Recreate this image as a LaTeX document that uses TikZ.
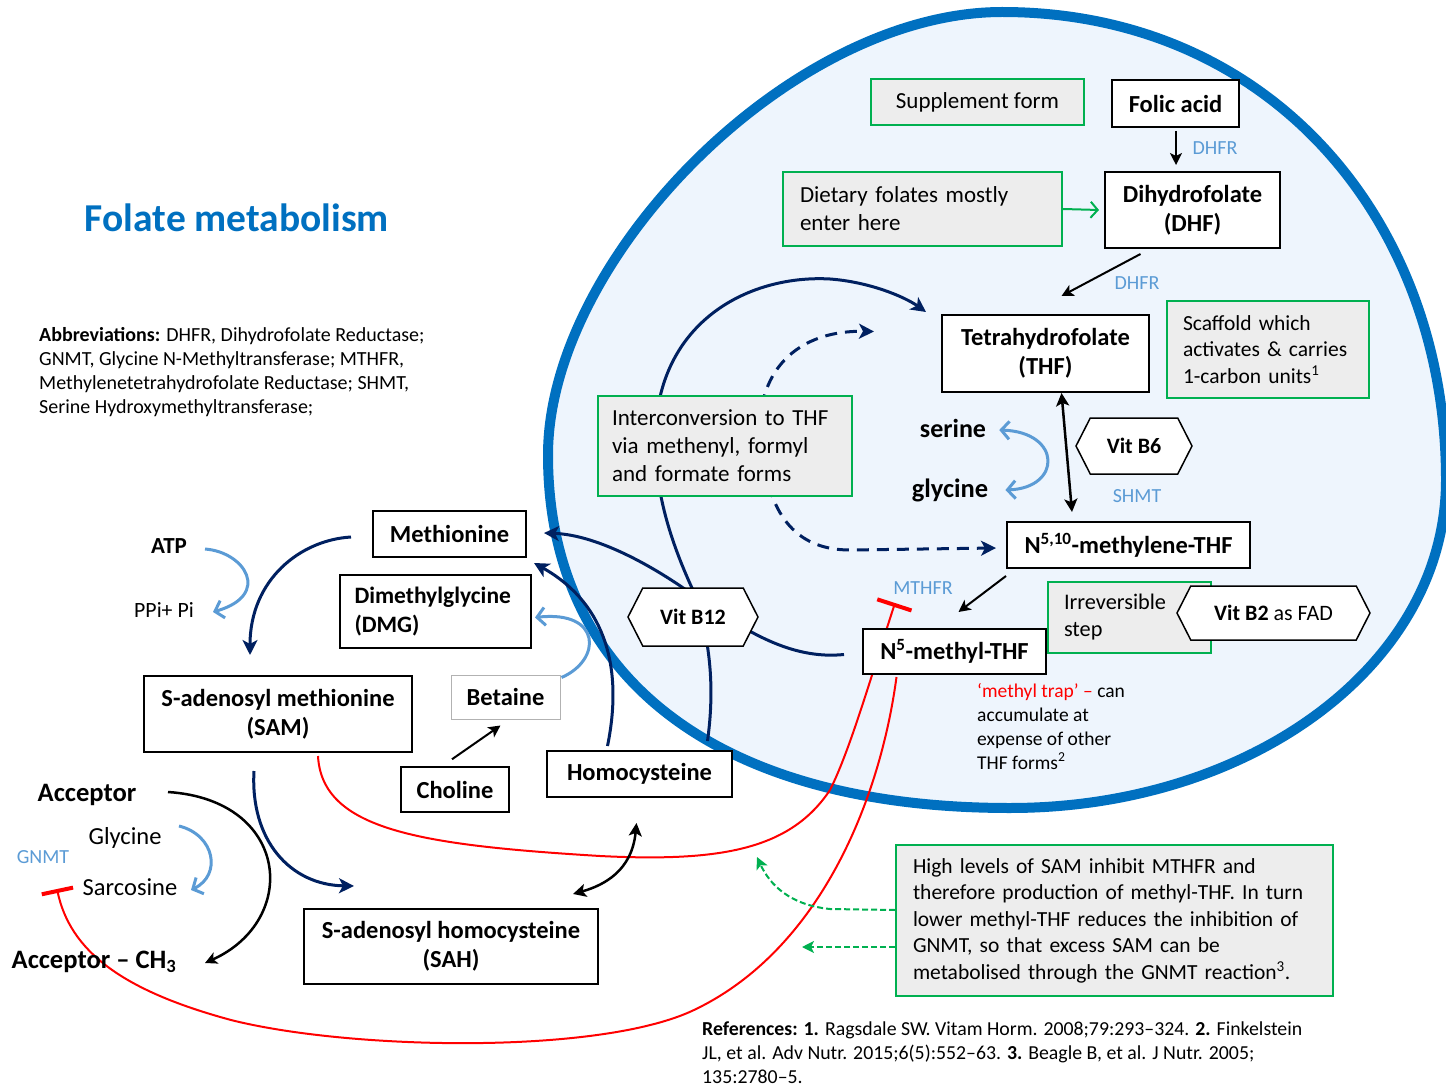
\documentclass[tikz,border=0pt]{standalone}
\usepackage{fontspec}
\setmainfont{Carlito}
\usetikzlibrary{arrows.meta,shapes.symbols,calc}
\pgfdeclarelayer{back}
\pgfdeclarelayer{bg}
\pgfsetlayers{back,bg,main}
\definecolor{lblue}{HTML}{5B9BD5}
\definecolor{tblue}{HTML}{0070C0}
\definecolor{navy}{HTML}{002060}
\definecolor{gbord}{HTML}{00B050}
\definecolor{gfill}{HTML}{EDEDED}
\definecolor{efill}{HTML}{EEF5FD}
\definecolor{rred}{HTML}{FF0000}
\newcommand{\fsz}[2]{\fontsize{#1}{#2}\selectfont}
\begin{document}
\begin{tikzpicture}[x=1pt,y=-1pt,
  box/.style={draw=black, line width=2pt, fill=white, inner sep=0pt, align=center, font=\bfseries\fsz{24.5}{29}},
  gbox/.style={draw=gbord, line width=2pt, fill=gfill, inner ysep=0pt, inner xsep=16pt, align=left, font=\fsz{23}{28}},
  hexa/.style={shape=signal, signal to=east and west, signal pointer angle=126, draw=black, line width=1.5pt, fill=white, inner sep=0pt, font=\bfseries\fsz{22}{26}},
  lbl/.style={text=lblue, font=\fsz{20}{22}, inner sep=0pt},
  txt/.style={inner sep=0pt},
  navyarr/.style={draw=navy, line width=3pt, -{Stealth[length=15pt,width=15pt,inset=4pt]}},
  navydash/.style={draw=navy, line width=3pt, dash pattern=on 12pt off 8pt, -{Stealth[length=15pt,width=15pt,inset=4pt]}},
  blkarr/.style={draw=black, line width=2pt, -{Stealth[length=12pt,width=12pt,inset=3pt]}},
  blkdbl/.style={draw=black, line width=2.5pt, {Stealth[length=13pt,width=13pt,inset=3pt]}-{Stealth[length=13pt,width=13pt,inset=3pt]}},
  lbarr/.style={draw=lblue, line width=3pt, -{Straight Barb[length=8pt,width=18pt]}},
  lbdbl/.style={draw=lblue, line width=3pt, {Straight Barb[length=8pt,width=18pt]}-{Straight Barb[length=8pt,width=18pt]}},
  grarr/.style={draw=gbord, line width=2pt, -{Straight Barb[length=7pt,width=16pt]}},
  grdash/.style={draw=gbord, line width=2pt, dash pattern=on 6pt off 3pt, -{Stealth[length=12pt,width=12pt,inset=3pt]}},
  redinh/.style={draw=rred, line width=2pt, -{Bar[width=36pt,line width=4pt]}}
]
\useasboundingbox (0,0) rectangle (1446,1086);

% ---- big ellipse (cell) ----
\begin{pgfonlayer}{back}
\path[fill=efill, draw=tblue, line width=10pt]
  (1002,12) .. controls (1270,12) and (1446,220) .. (1446,480)
  .. controls (1446,665) and (1250,808) .. (1010,808)
  .. controls (720,808) and (548,680) .. (548,455)
  .. controls (548,260) and (790,12) .. cycle;
\end{pgfonlayer}

% ---- nodes ----
\node[gbox, inner xsep=0pt, align=center, minimum width=213pt, minimum height=46pt] (supp) at (977.5,102) {Supplement form};
\node[box, minimum width=127pt, minimum height=47pt] (folic) at (1175.5,103.5) {Folic acid};
\node[gbox, text width=245pt, inner xsep=17pt, minimum height=74pt] (diet) at (922.5,209) {Dietary folates mostly\\enter here};
\node[box, minimum width=175pt, minimum height=76pt] (dhf) at (1192.5,210) {Dihydrofolate\\(DHF)};
\node[box, minimum width=207pt, minimum height=77pt] (thf) at (1045.5,353.5) {Tetrahydrofolate\\(THF)};
\node[gbox, text width=170pt, inner xsep=16pt, minimum height=97pt, font=\fsz{21.5}{26.5}] (scaf) at (1268,349.5) {Scaffold which\\activates \& carries\\1-carbon units\textsuperscript{1}};
\node[gbox, text width=226pt, inner xsep=14pt, minimum height=100pt] (inter) at (725,446) {Interconversion to THF\\via methenyl, formyl\\and formate forms};
\node[box, minimum width=243pt, minimum height=46pt] (mthf) at (1128.5,545) {N\textsuperscript{5,10}-methylene-THF};
\node[box, minimum width=183pt, minimum height=45pt] (n5) at (954.5,651.5) {N\textsuperscript{5}-methyl-THF};
\node[gbox, text width=131pt, minimum height=71pt, font=\fsz{22.3}{27}] (irrev) at (1129.5,617.5) {Irreversible\\step};
\node[hexa, minimum width=193pt, minimum height=54pt, font=\fsz{22}{26}] (b2) at (1273.5,613) {\textbf{Vit B2} as FAD};
\node[hexa, minimum width=116pt, minimum height=56pt] (b6) at (1134,446) {Vit B6};
\node[hexa, minimum width=130pt, minimum height=58pt] (b12) at (693,617) {Vit B12};

\node[box, minimum width=153pt, minimum height=46pt] (met) at (449.5,534) {Methionine};
\node[box, align=left, text width=162pt, inner xsep=14.5pt, minimum height=73pt, font=\bfseries\fsz{23.5}{29}] (dmg) at (435.5,611.5) {Dimethylglycine\\(DMG)};
\node[box, draw=gray!60, line width=1pt, minimum width=109pt, minimum height=44pt] (bet) at (505.5,697) {Betaine};
\node[box, line width=1.5pt, minimum width=108pt, minimum height=45pt] (chol) at (455,789.5) {Choline};
\node[box, minimum width=268pt, minimum height=76pt] (sam) at (278,714) {S-adenosyl methionine\\(SAM)};
\node[box, minimum width=185pt, minimum height=46pt] (hcy) at (639.5,774) {Homocysteine};
\node[box, minimum width=294pt, minimum height=75pt] (sah) at (451,946.5) {S-adenosyl homocysteine\\(SAH)};
\node[gbox, text width=403pt, inner xsep=17pt, minimum height=151pt, font=\fsz{21.5}{26.5}] (note) at (1114.5,920.5) {High levels of SAM inhibit MTHFR and\\therefore production of methyl-THF. In turn\\lower methyl-THF reduces the inhibition of\\GNMT, so that excess SAM can be\\metabolised through the GNMT reaction\textsuperscript{3}.};

% ---- free texts ----
\node[txt, text=tblue, font=\bfseries\fsz{39.5}{46}] (title) at (237,218) {Folate metabolism};
\node[txt, anchor=west, align=left, font=\fsz{20}{24}] (abbr) at (39,372) {\textbf{Abbreviations:} DHFR, Dihydrofolate Reductase;\\GNMT, Glycine N-Methyltransferase; MTHFR,\\Methylenetetrahydrofolate Reductase; SHMT,\\Serine Hydroxymethyltransferase;};
\node[txt, font=\bfseries\fsz{23}{26}] (atp) at (169,546) {ATP};
\node[txt, font=\fsz{21.8}{26}] (ppi) at (164,610) {PPi+ Pi};
\node[txt, font=\bfseries\fsz{26}{30}] (ser) at (953,428) {serine};
\node[txt, font=\bfseries\fsz{26.5}{30}] (gly) at (950,490) {glycine};
\node[lbl] (dhfr1) at (1215,148) {DHFR};
\node[lbl] (dhfr2) at (1137,283) {DHFR};
\node[lbl] (shmt) at (1137,496) {SHMT};
\node[lbl] (mthfr) at (923,588) {MTHFR};
\node[lbl] (gnmt) at (43,857) {GNMT};
\node[txt, font=\bfseries\fsz{26.6}{30}] (acc) at (87,795) {Acceptor};
\node[txt, font=\bfseries\fsz{26.6}{30}] (acch) at (94,962) {Acceptor – CH\textsubscript{3}};
\node[txt, font=\fsz{24.5}{28}] (gly2) at (125,838) {Glycine};
\node[txt, font=\fsz{24.5}{28}] (sarc) at (130,887) {Sarcosine};
\node[txt, anchor=west, align=left, font=\fsz{19.5}{24}] (trap) at (977,726.5) {\textcolor{rred}{‘methyl trap’ –} can\\accumulate at\\expense of other\\THF forms\textsuperscript{2}};
\node[txt, anchor=west, align=left, font=\fsz{19.8}{24}] (refs) at (702,1053) {\textbf{References: 1.} Ragsdale SW. Vitam Horm. 2008;79:293–324. \textbf{2.} Finkelstein\\JL, et al. Adv Nutr. 2015;6(5):552–63. \textbf{3.} Beagle B, et al. J Nutr. 2005;\\135:2780–5.};

\coordinate (dA) at ($(inter.center)+(37,0)$);
\coordinate (dthf) at ($(thf.west)+(-67,-22)$);
\coordinate (g1) at (757,857);
\coordinate (g2) at (802,947);

% ---- connectors behind nodes ----
\begin{pgfonlayer}{bg}
\draw[navydash] (dA) .. controls (752,380) and (790,330) .. (dthf);
\draw[navydash] (dA) .. controls (768,520) and (800,550) .. (850,550) -- ($(mthf.west)+(-10,3)$);
\draw[navyarr] ($(hcy.north)+(68,-9)$) .. controls (716,680) and (708,630) .. (692,588)
  .. controls (670,540) and (645,470) .. (660,397)
  .. controls (680,310) and (760,275) .. (830,279)
  .. controls (870,282) and (905,297) .. ($(thf.north west)+(-15,-2)$);
\draw[navyarr] ($(n5.west)+(-18,3)$) .. controls (790,660) and (745,630) .. (700,600)
  .. controls (660,570) and (600,535) .. ($(met.east)+(17,-1)$);
\draw[navyarr] ($(hcy.north)+(-32,-4)$) .. controls (625,660) and (600,600) .. ($(met.south east)+(7,5)$);
\draw[navyarr] ($(met.west)+(-21,3)$) .. controls (300,540) and (250,580) .. ($(sam.north)+(-28,-20)$);
\draw[navyarr] ($(sam.south)+(-24,18)$) .. controls (250,840) and (290,885) .. ($(sah.north west)+(51,-22)$);
\draw[redinh] ($(sam.south)+(40,3)$) .. controls (322,830) and (420,845) .. (600,856)
  .. controls (720,862) and (790,850) .. (830,790)
  .. controls (850,750) and (870,680) .. ($(mthfr.center)+(-28,15)$);
\draw[redinh, -{Bar[width=32pt,line width=4pt]}] ($(n5.south)+(-58,2)$) .. controls (880,800) and (820,950) .. (694,1010)
  .. controls (600,1055) and (350,1050) .. (231,1020)
  .. controls (120,990) and (70,950) .. ($(gnmt.center)+(14,32)$);
\end{pgfonlayer}

% ---- other connectors ----
\draw[blkarr] ($(folic.south)+(0.5,3)$) -- ($(dhf.north)+(-16.5,-6)$);
\draw[grarr] (diet.east) -- ($(dhf.west)+(-5,0)$);
\draw[blkarr] ($(dhf.south)+(-52,5)$) -- ($(thf.north)+(16,-18)$);
\draw[blkdbl] ($(thf.south)+(16,0)$) -- ($(mthf.north)+(-56.5,-9)$);
\draw[lbdbl] ($(ser.east)+(13,2)$) .. controls (1062,432) and (1062,488) .. ($(gly.east)+(17,0)$);
\draw[blkarr] ($(mthf.south west)+(0,7)$) -- ($(n5.north)+(4,-16)$);
\draw[lbarr] ($(atp.center)+(36,3)$) .. controls (245,552) and (272,595) .. ($(ppi.center)+(49,2)$);
\draw[lbarr] ($(bet.north east)+(1,3)$) .. controls (602,660) and (602,610) .. ($(dmg.east)+(3,6)$);
\draw[blkarr] ($(chol.north)+(-3,-7)$) -- ($(bet.south)+(-5,6)$);
\draw[blkdbl] ($(hcy.south)+(-3,25)$) .. controls (632,870) and (605,885) .. ($(sah.north east)+(-26,-14)$);
\draw[blkarr, line width=2.5pt] ($(acc.center)+(81,-3)$) .. controls (290,800) and (300,920) .. ($(acch.center)+(111,1)$);
\draw[lbarr] ($(gly2.center)+(54,-12)$) .. controls (215,835) and (222,875) .. ($(sarc.center)+(61,3)$);
\draw[grdash] ($(note.west)+(0,-10.5)$) -- (830,909) .. controls (790,905) and (770,885) .. (g1);
\draw[grdash] ($(note.west)+(0,26.5)$) -- (g2);
\end{tikzpicture}
\end{document}
